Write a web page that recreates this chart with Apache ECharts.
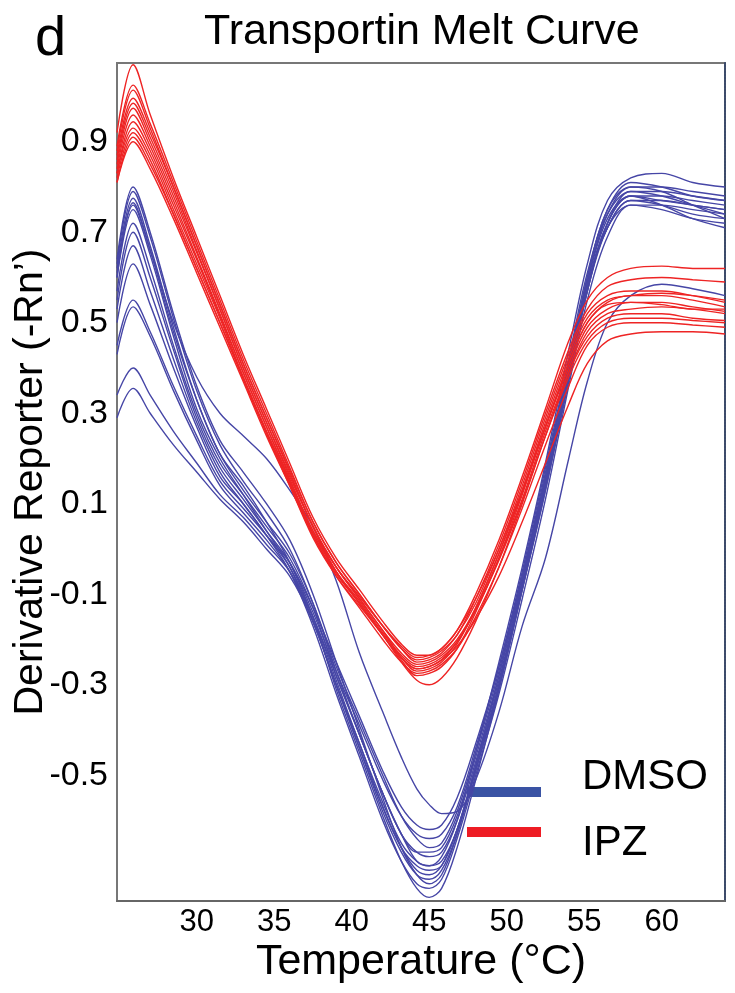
<!DOCTYPE html>
<html>
<head>
<meta charset="utf-8">
<script src="https://cdn.jsdelivr.net/npm/echarts@6/dist/echarts.min.js"></script>
<style>
html,body{margin:0;padding:0;background:#fff;}
#chart{width:735px;height:993px;}
</style>
</head>
<body>
<div id="chart"></div>
<script>
// Temperature grid (°C)
const temps = [24.86, 25.9, 27, 28.5, 30, 31.5, 33, 34.5, 36, 37.5, 39, 40.5, 42, 43.2, 44.2, 45, 45.8, 46.8, 48, 49.5, 51, 52.5, 54, 55.2, 56.5, 58, 60, 62, 64.08];

// DMSO curves (derivative reporter, -Rn')
const dmso1  = [0.64, 0.80, 0.70, 0.52, 0.36, 0.24, 0.17, 0.10, 0.02, -0.10, -0.25, -0.40, -0.55, -0.66, -0.72, -0.74, -0.72, -0.63, -0.48, -0.28, -0.07, 0.16, 0.41, 0.60, 0.75, 0.80, 0.80, 0.79, 0.78];
const dmso2  = [0.63, 0.79, 0.69, 0.51, 0.35, 0.23, 0.15, 0.08, 0.00, -0.12, -0.27, -0.41, -0.54, -0.63, -0.69, -0.70, -0.68, -0.60, -0.45, -0.25, -0.04, 0.19, 0.44, 0.63, 0.77, 0.82, 0.83, 0.81, 0.80];
const dmso3  = [0.62, 0.775, 0.67, 0.49, 0.33, 0.21, 0.14, 0.06, -0.03, -0.15, -0.31, -0.45, -0.59, -0.69, -0.75, -0.77, -0.75, -0.66, -0.51, -0.31, -0.09, 0.13, 0.38, 0.57, 0.72, 0.79, 0.78, 0.76, 0.74];
const dmso4  = [0.60, 0.765, 0.66, 0.48, 0.33, 0.21, 0.13, 0.06, -0.01, -0.12, -0.26, -0.38, -0.50, -0.59, -0.64, -0.66, -0.65, -0.58, -0.45, -0.27, -0.06, 0.17, 0.41, 0.59, 0.73, 0.78, 0.78, 0.77, 0.76];
const dmso5  = [0.60, 0.75, 0.65, 0.47, 0.31, 0.20, 0.12, 0.04, -0.04, -0.16, -0.30, -0.43, -0.57, -0.66, -0.71, -0.72, -0.70, -0.62, -0.49, -0.30, -0.08, 0.15, 0.39, 0.59, 0.74, 0.80, 0.79, 0.76, 0.73];
const dmso6  = [0.57, 0.72, 0.62, 0.45, 0.30, 0.19, 0.12, 0.05, -0.02, -0.13, -0.28, -0.41, -0.54, -0.63, -0.67, -0.68, -0.67, -0.60, -0.47, -0.29, -0.08, 0.14, 0.38, 0.57, 0.71, 0.77, 0.77, 0.76, 0.75];
const dmso7  = [0.55, 0.70, 0.60, 0.44, 0.29, 0.18, 0.11, 0.04, -0.03, -0.14, -0.27, -0.39, -0.51, -0.59, -0.63, -0.64, -0.63, -0.57, -0.44, -0.26, -0.05, 0.18, 0.42, 0.61, 0.74, 0.79, 0.79, 0.78, 0.77];
const dmso8  = [0.53, 0.67, 0.57, 0.42, 0.28, 0.17, 0.10, 0.03, -0.05, -0.17, -0.32, -0.46, -0.60, -0.69, -0.74, -0.75, -0.73, -0.64, -0.50, -0.32, -0.11, 0.11, 0.36, 0.55, 0.69, 0.76, 0.75, 0.73, 0.72];
const dmso9  = [0.50, 0.63, 0.54, 0.40, 0.27, 0.16, 0.10, 0.03, -0.04, -0.15, -0.29, -0.43, -0.56, -0.65, -0.69, -0.70, -0.69, -0.62, -0.48, -0.30, -0.09, 0.13, 0.37, 0.57, 0.72, 0.78, 0.76, 0.73, 0.71];
const dmso10 = [0.45, 0.55, 0.48, 0.36, 0.25, 0.15, 0.09, 0.03, -0.03, -0.13, -0.25, -0.37, -0.49, -0.57, -0.61, -0.62, -0.61, -0.55, -0.43, -0.26, -0.06, 0.16, 0.40, 0.58, 0.71, 0.76, 0.76, 0.75, 0.74];
const dmso11 = [0.43, 0.535, 0.47, 0.35, 0.24, 0.14, 0.08, 0.02, -0.05, -0.16, -0.30, -0.44, -0.58, -0.67, -0.72, -0.73, -0.71, -0.63, -0.49, -0.31, -0.09, 0.14, 0.39, 0.60, 0.75, 0.81, 0.80, 0.78, 0.77];
const dmso12 = [0.34, 0.40, 0.34, 0.26, 0.19, 0.12, 0.07, 0.01, -0.05, -0.15, -0.28, -0.41, -0.54, -0.63, -0.67, -0.67, -0.66, -0.59, -0.46, -0.28, -0.07, 0.15, 0.39, 0.58, 0.71, 0.77, 0.76, 0.74, 0.73];
const dmso13 = [0.29, 0.355, 0.30, 0.23, 0.17, 0.11, 0.06, 0.00, -0.06, -0.16, -0.30, -0.44, -0.57, -0.66, -0.70, -0.71, -0.70, -0.62, -0.48, -0.30, -0.08, 0.14, 0.38, 0.58, 0.72, 0.78, 0.77, 0.76, 0.75];
const dmso14 = [0.61, 0.76, 0.66, 0.50, 0.38, 0.30, 0.25, 0.20, 0.13, 0.05, -0.07, -0.23, -0.36, -0.46, -0.53, -0.565, -0.585, -0.58, -0.51, -0.36, -0.17, -0.02, 0.20, 0.37, 0.50, 0.56, 0.585, 0.575, 0.56];

// IPZ curves
const ipz1  = [0.92, 1.07, 0.96, 0.82, 0.69, 0.56, 0.43, 0.31, 0.19, 0.07, -0.02, -0.09, -0.16, -0.21, -0.235, -0.235, -0.22, -0.18, -0.10, 0.02, 0.16, 0.31, 0.46, 0.55, 0.60, 0.62, 0.625, 0.62, 0.62];
const ipz2  = [0.89, 1.025, 0.94, 0.81, 0.68, 0.55, 0.42, 0.30, 0.18, 0.06, -0.03, -0.10, -0.17, -0.22, -0.245, -0.24, -0.225, -0.19, -0.11, 0.01, 0.15, 0.30, 0.44, 0.53, 0.58, 0.595, 0.60, 0.595, 0.59];
const ipz3  = [0.88, 1.014, 0.93, 0.80, 0.67, 0.54, 0.41, 0.29, 0.17, 0.05, -0.04, -0.11, -0.18, -0.24, -0.27, -0.265, -0.25, -0.21, -0.13, -0.01, 0.13, 0.28, 0.42, 0.51, 0.55, 0.56, 0.565, 0.56, 0.55];
const ipz4  = [0.87, 0.996, 0.92, 0.80, 0.67, 0.54, 0.41, 0.29, 0.175, 0.06, -0.03, -0.10, -0.17, -0.22, -0.25, -0.245, -0.23, -0.19, -0.12, 0.00, 0.14, 0.29, 0.43, 0.52, 0.56, 0.57, 0.57, 0.56, 0.545];
const ipz5  = [0.86, 0.985, 0.91, 0.79, 0.66, 0.53, 0.40, 0.28, 0.16, 0.05, -0.05, -0.12, -0.19, -0.245, -0.28, -0.275, -0.26, -0.22, -0.14, -0.02, 0.12, 0.27, 0.41, 0.50, 0.545, 0.56, 0.56, 0.55, 0.535];
const ipz6  = [0.85, 0.974, 0.90, 0.78, 0.655, 0.53, 0.40, 0.28, 0.165, 0.05, -0.04, -0.11, -0.18, -0.23, -0.255, -0.25, -0.235, -0.20, -0.13, -0.01, 0.125, 0.27, 0.40, 0.49, 0.53, 0.545, 0.545, 0.535, 0.525];
const ipz7  = [0.84, 0.959, 0.89, 0.77, 0.645, 0.52, 0.39, 0.27, 0.155, 0.04, -0.05, -0.12, -0.19, -0.25, -0.29, -0.30, -0.285, -0.24, -0.16, -0.04, 0.10, 0.25, 0.39, 0.48, 0.52, 0.53, 0.535, 0.53, 0.52];
const ipz8  = [0.83, 0.944, 0.88, 0.76, 0.64, 0.515, 0.39, 0.27, 0.15, 0.035, -0.05, -0.115, -0.185, -0.235, -0.26, -0.255, -0.24, -0.205, -0.135, -0.02, 0.11, 0.26, 0.39, 0.47, 0.51, 0.52, 0.52, 0.51, 0.505];
const ipz9  = [0.83, 0.93, 0.87, 0.75, 0.63, 0.51, 0.38, 0.26, 0.145, 0.03, -0.06, -0.13, -0.20, -0.25, -0.275, -0.27, -0.255, -0.22, -0.15, -0.04, 0.09, 0.23, 0.36, 0.45, 0.49, 0.50, 0.50, 0.495, 0.49];
const ipz10 = [0.82, 0.92, 0.86, 0.74, 0.62, 0.50, 0.375, 0.255, 0.14, 0.025, -0.06, -0.125, -0.19, -0.24, -0.265, -0.26, -0.245, -0.215, -0.155, -0.06, 0.06, 0.19, 0.32, 0.41, 0.46, 0.475, 0.48, 0.48, 0.475];
const ipz11 = [0.81, 0.91, 0.85, 0.74, 0.62, 0.50, 0.38, 0.26, 0.15, 0.04, -0.04, -0.105, -0.17, -0.215, -0.24, -0.235, -0.22, -0.18, -0.11, 0.00, 0.13, 0.27, 0.41, 0.50, 0.54, 0.545, 0.54, 0.53, 0.53];
const ipz12 = [0.81, 0.90, 0.84, 0.73, 0.61, 0.49, 0.37, 0.25, 0.14, 0.03, -0.055, -0.12, -0.19, -0.24, -0.265, -0.26, -0.245, -0.205, -0.135, -0.025, 0.105, 0.25, 0.38, 0.46, 0.50, 0.51, 0.51, 0.505, 0.50];

const dmsoCurves = [dmso1, dmso2, dmso3, dmso4, dmso5, dmso6, dmso7, dmso8, dmso9, dmso10, dmso11, dmso12, dmso13, dmso14];
const ipzCurves = [ipz1, ipz2, ipz3, ipz4, ipz5, ipz6, ipz7, ipz8, ipz9, ipz10, ipz11, ipz12];

// Axis tick labels
const xTicks = [30, 35, 40, 45, 50, 55, 60];
const yTicks = [-0.5, -0.3, -0.1, 0.1, 0.3, 0.5, 0.7, 0.9];
const xRange = [24.86, 64.08];
const yRange = [-0.778, 1.074];

const FONT = 'Liberation Sans, Arial, Helvetica, sans-serif';
const BLUE = '#4646a6';
const RED = '#ee2424';

function mkSeries(curves, color, name) {
  return curves.map((c, k) => ({
    name: name,
    type: 'line',
    showSymbol: false,
    smooth: 0.35,
    silent: true,
    z: 2,
    lineStyle: { color: color, width: 1.4 },
    data: temps.map((t, i) => [t, c[i]])
  }));
}

const chart = echarts.init(document.getElementById('chart'), null, { renderer: 'canvas' });
chart.setOption({
  animation: false,
  backgroundColor: '#ffffff',
  title: {
    text: 'Transportin Melt Curve',
    left: 199,
    top: 6,
    textStyle: { fontFamily: FONT, fontSize: 43, fontWeight: 'normal', color: '#000' }
  },
  grid: {
    left: 117, right: 10, top: 63, bottom: 92,
    outerBoundsMode: 'none',
    containLabel: false,
    show: true, borderColor: '#777', borderWidth: 2, backgroundColor: 'transparent'
  },
  xAxis: {
    type: 'value',
    min: xRange[0], max: xRange[1],
    name: 'Temperature (°C)',
    nameLocation: 'middle',
    nameGap: 40,
    nameMoveOverlap: false,
    nameTextStyle: { fontFamily: FONT, fontSize: 43, color: '#000' },
    axisLine: { show: true, onZero: false, lineStyle: { color: '#666', width: 2 } },
    axisTick: { show: false },
    splitLine: { show: false },
    axisLabel: { customValues: xTicks, fontFamily: FONT, fontSize: 31, color: '#000', margin: 6 }
  },
  yAxis: [{
    type: 'value',
    min: yRange[0], max: yRange[1],
    name: "Derivative Reporter (-Rn’)",
    nameLocation: 'middle',
    nameGap: 66,
    nameMoveOverlap: false,
    nameTextStyle: { fontFamily: FONT, fontSize: 41, color: '#000' },
    axisLine: { show: true, onZero: false, lineStyle: { color: '#777', width: 2 } },
    axisTick: { show: false },
    splitLine: { show: false },
    axisLabel: { customValues: yTicks, fontFamily: FONT, fontSize: 34, color: '#000', margin: 9,
      formatter: v => v.toFixed(1) }
  }, {
    type: 'value',
    position: 'right',
    min: yRange[0], max: yRange[1],
    axisLine: { show: true, onZero: false, lineStyle: { color: '#3b4a6a', width: 2, type: [2, 1] } },
    axisTick: { show: false },
    axisLabel: { show: false },
    splitLine: { show: false }
  }],
  graphic: [
    { type: 'text', left: 35, top: 12, style: { text: 'd', fontFamily: FONT, fontSize: 56, fill: '#000' } },
    { type: 'rect', shape: { x: 467, y: 787, width: 74, height: 10 }, style: { fill: '#3a53a4' } },
    { type: 'rect', shape: { x: 467, y: 827, width: 74, height: 10 }, style: { fill: '#ee1c24' } },
    { type: 'text', x: 582, y: 777, style: { text: 'DMSO', fontFamily: FONT, fontSize: 42, fill: '#000', verticalAlign: 'middle' } },
    { type: 'text', x: 582, y: 843, style: { text: 'IPZ', fontFamily: FONT, fontSize: 42, fill: '#000', verticalAlign: 'middle' } }
  ],
  series: [].concat(mkSeries(dmsoCurves, BLUE, 'DMSO'), mkSeries(ipzCurves, RED, 'IPZ'))
});
</script>
</body>
</html>
